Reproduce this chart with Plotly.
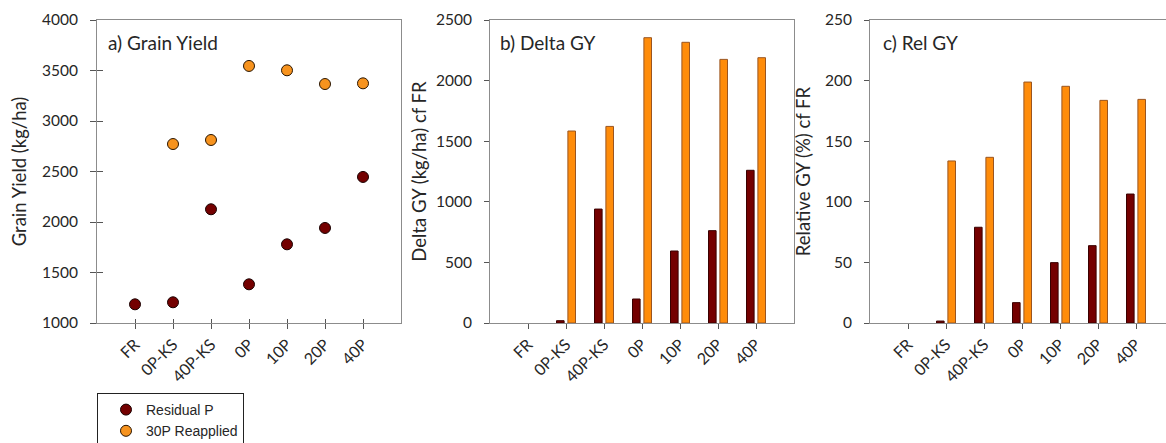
import plotly.graph_objects as go

# Treatments and yields
treatments = ["FR", "0P-KS", "40P-KS", "0P", "10P", "20P", "40P"]
gy_residual = [1185, 1205, 2126, 1383, 1779, 1941, 2446]
gy_reapplied = [None, 2772, 2812, 3545, 3502, 3366, 3373]
delta_residual = [0, 19, 940, 198, 594, 762, 1260]
delta_reapplied = [0, 1584, 1622, 2354, 2316, 2175, 2189]
rel_residual = [0, 1.6, 79, 16.8, 49.8, 63.8, 106.4]
rel_reapplied = [0, 133.7, 136.7, 198.8, 195.3, 183.7, 184.5]

RES_COLOR = "#740000"
RE_COLOR = "#ff8c0a"
MARK_RE = "#f7931e"
AXIS_COL = "#8c8c8c"
TICK_COL = "#555555"
TXT = "#262626"
FONT = "Lato"

W, H = 1166, 443
fig = go.Figure()


def outline_widths(values):
    # no outline on zero-height bars (the FR reference itself)
    return [0 if v == 0 else 1 for v in values]


# a) grain yield scatter
fig.add_trace(go.Scatter(x=treatments, y=gy_residual, mode="markers", name="Residual P",
                         marker=dict(size=11, color=RES_COLOR, line=dict(color="#1a0000", width=1)),
                         xaxis="x", yaxis="y"))
fig.add_trace(go.Scatter(x=treatments, y=gy_reapplied, mode="markers", name="30P Reapplied",
                         marker=dict(size=11, color=MARK_RE, line=dict(color="#2a1500", width=1)),
                         xaxis="x", yaxis="y"))
# inward half of the crossing ticks on panel a
fig.add_trace(go.Scatter(x=treatments, y=[None] * len(treatments), mode="markers",
                         showlegend=False, hoverinfo="skip", xaxis="x4", yaxis="y4"))

# b) delta GY bars
fig.add_trace(go.Bar(x=treatments, y=delta_residual, name="Residual P", showlegend=False,
                     marker=dict(color=RES_COLOR,
                                 line=dict(color="#3a0000", width=outline_widths(delta_residual))),
                     xaxis="x2", yaxis="y2"))
fig.add_trace(go.Bar(x=treatments, y=delta_reapplied, name="30P Reapplied", showlegend=False,
                     marker=dict(color=RE_COLOR,
                                 line=dict(color="#9a5520", width=outline_widths(delta_reapplied))),
                     xaxis="x2", yaxis="y2"))

# c) relative GY bars
fig.add_trace(go.Bar(x=treatments, y=rel_residual, name="Residual P", showlegend=False,
                     marker=dict(color=RES_COLOR,
                                 line=dict(color="#3a0000", width=outline_widths(rel_residual))),
                     xaxis="x3", yaxis="y3"))
fig.add_trace(go.Bar(x=treatments, y=rel_reapplied, name="30P Reapplied", showlegend=False,
                     marker=dict(color=RE_COLOR,
                                 line=dict(color="#9a5520", width=outline_widths(rel_reapplied))),
                     xaxis="x3", yaxis="y3"))

top_px, bot_px = 20, 323
margin_t, margin_b = top_px, H - bot_px
ydom = [0, 1]


def xdom(a, b):
    return [a / W, b / W]


tickfont = dict(family=FONT, size=15.5, color=TXT)
xtickfont = dict(family=FONT, size=16, color=TXT)
titlefont = dict(family=FONT, size=18.5, color=TXT)

xcommon = dict(type="category", categoryorder="array", categoryarray=treatments,
               showline=True, linecolor=AXIS_COL, linewidth=1, mirror=True,
               ticks="outside", ticklen=5, tickcolor=TICK_COL, tickwidth=1,
               tickangle=-45, tickfont=xtickfont, showgrid=False, zeroline=False,
               automargin=False)
ycommon = dict(showline=True, linecolor=AXIS_COL, linewidth=1,
               ticks="outside", ticklen=6, tickcolor=TICK_COL, tickwidth=1,
               tickfont=tickfont, showgrid=False, zeroline=False,
               ticklabelstandoff=9, title_font=titlefont, automargin=False)

fig.update_layout(
    width=W, height=H,
    margin=dict(l=0, r=0, t=margin_t, b=margin_b, autoexpand=False),
    paper_bgcolor="white", plot_bgcolor="white",
    barmode="group", bargap=0.4, bargroupgap=1 / 3,
    xaxis=dict(xcommon, domain=xdom(97, 401), range=[-1, 7], anchor="y", ticklen=5),
    yaxis=dict(ycommon, domain=ydom, range=[1000, 4000], dtick=500, anchor="x", mirror=True,
               title=dict(text="Grain Yield (kg/ha)", standoff=10)),
    xaxis4=dict(type="category", categoryorder="array", categoryarray=treatments,
                overlaying="x", anchor="y4", range=[-1, 7], showline=False,
                ticks="inside", ticklen=4, tickcolor=TICK_COL, tickwidth=1,
                showticklabels=False, showgrid=False, zeroline=False, automargin=False),
    yaxis4=dict(overlaying="y", anchor="x4", range=[1000, 4000], dtick=500, showline=False,
                ticks="inside", ticklen=6, tickcolor=TICK_COL, tickwidth=1,
                showticklabels=False, showgrid=False, zeroline=False, automargin=False),
    xaxis2=dict(xcommon, domain=xdom(490, 794), range=[-1, 7], anchor="y2"),
    yaxis2=dict(ycommon, domain=ydom, range=[0, 2500], dtick=500, anchor="x2", mirror=True,
                ticklen=5, title=dict(text="Delta GY (kg/ha) cf FR", standoff=4)),
    xaxis3=dict(xcommon, domain=xdom(870, W), range=[-1, (W - 870) / 38 - 1], anchor="y3"),
    yaxis3=dict(ycommon, domain=ydom, range=[0, 250], dtick=50, anchor="x3", mirror=False,
                ticklen=5, title=dict(text="Relative GY (%) cf FR", standoff=9)),
    legend=dict(x=97 / W, xanchor="left", y=(bot_px - 393) / (bot_px - top_px), yanchor="top",
                bordercolor="#222222", borderwidth=1, bgcolor="white",
                font=dict(family="Liberation Sans", size=14, color=TXT),
                indentation=8, entrywidth=112, entrywidthmode="pixels"),
    showlegend=True,
)

panel_labels = [("a) Grain Yield", "x domain", "y domain", 106),
                ("b) Delta GY", "x2 domain", "y2 domain", 498),
                ("c) Rel GY", "x3 domain", "y3 domain", 881)]
doms = {"x domain": (97, 401), "x2 domain": (490, 794), "x3 domain": (870, W)}
for text, xr, yr, px in panel_labels:
    d0, d1 = doms[xr]
    fig.add_annotation(text=text, xref=xr, yref=yr, x=(px - d0) / (d1 - d0),
                       y=(bot_px - 42) / (bot_px - top_px), xanchor="left", yanchor="middle",
                       showarrow=False, font=dict(family=FONT, size=19, color=TXT))

fig.write_html("out.html")
